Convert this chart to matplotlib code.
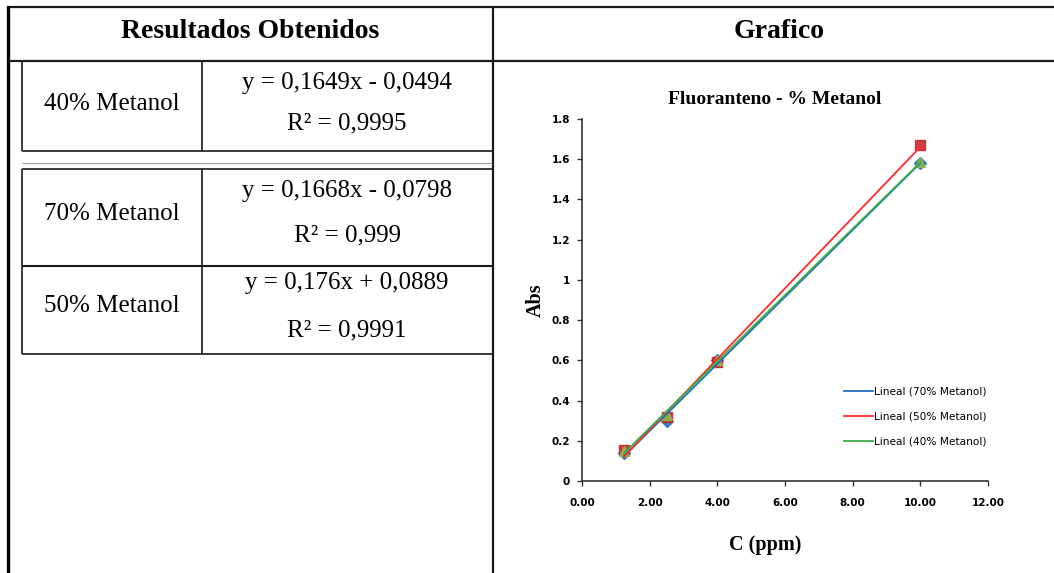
#!/usr/bin/env python3
"""Fluoranteno calibration: results table plus chart, rebuilt as one figure."""

import numpy as np
import matplotlib
matplotlib.use("Agg")
import matplotlib.pyplot as plt

W, H = 1054, 573

# table contents
row_labels = ["40% Metanol", "70% Metanol", "50% Metanol"]
row_equations = ["y = 0,1649x - 0,0494", "y = 0,1668x - 0,0798", "y = 0,176x + 0,0889"]
row_r2 = ["R² = 0,9995", "R² = 0,999", "R² = 0,9991"]

# chart data
conc_ppm = [1.25, 2.5, 4.0, 10.0]
abs_70 = [0.14, 0.30, 0.60, 1.58]
abs_50 = [0.155, 0.32, 0.59, 1.67]
abs_40 = [0.15, 0.33, 0.60, 1.585]
series_names = ["70% Metanol", "50% Metanol", "40% Metanol"]
y_ticks = [0, 0.2, 0.4, 0.6, 0.8, 1.0, 1.2, 1.4, 1.6, 1.8]
x_ticks = [0, 2, 4, 6, 8, 10, 12]

SERIF = ["Liberation Serif", "DejaVu Serif"]

fig = plt.figure(figsize=(W / 100, H / 100), dpi=100)

# background axes in pixel units for the table frame
bg = fig.add_axes([0, 0, 1, 1])
bg.set_xlim(0, W)
bg.set_ylim(H, 0)
bg.axis("off")


def hline(y, x0, x1, lw=1.2, color="#1a1a1a"):
    bg.plot([x0, x1], [y, y], color=color, lw=lw, solid_capstyle="butt")


def vline(x, y0, y1, lw=1.2, color="#1a1a1a"):
    bg.plot([x, x], [y0, y1], color=color, lw=lw, solid_capstyle="butt")


# outer frame
hline(7, 7, W, lw=1.6)
hline(61, 7, W, lw=1.6)
vline(8, 6, H, lw=2.4, color="black")
vline(493, 7, H, lw=1.6)

# inner boxes
hline(151, 22, 492)
vline(22, 62, 151)
vline(202, 62, 151)
hline(163, 22, 492, lw=0.8, color="#9a9a9a")
hline(169, 22, 492)
hline(266, 22, 492, lw=1.5)
hline(354, 22, 492)
vline(22, 169, 354)
vline(202, 169, 354)

bg.text(250, 28, "Resultados Obtenidos", ha="center", va="center_baseline",
        family=SERIF, fontsize=20, fontweight="bold")
bg.text(779, 28, "Grafico", ha="center", va="center_baseline",
        family=SERIF, fontsize=20, fontweight="bold")

label_y = [102, 212, 303]
eq_y = [81, 189, 281]
r2_y = [121, 233, 328]
for lab, eq, r2, ly, ey, ry in zip(row_labels, row_equations, row_r2, label_y, eq_y, r2_y):
    bg.text(112, ly, lab, ha="center", va="center_baseline", family=SERIF, fontsize=18)
    bg.text(347, ey, eq, ha="center", va="center_baseline", family=SERIF, fontsize=18)
    bg.text(347, ry, r2, ha="center", va="center_baseline", family=SERIF, fontsize=18)

# chart
ax = fig.add_axes([582 / W, 1 - 481 / H, 406 / W, 362 / H])
ax.set_facecolor("none")

marker_styles = [
    (abs_70, "D", "#2f6eba", 6.5),
    (abs_50, "s", "#c8282d", 7.5),
    (abs_40, "^", "#8db84a", 7.5),
]
for ys, mk, col, ms in marker_styles:
    ax.plot(conc_ppm, ys, linestyle="none", marker=mk, color=col, ms=ms,
            alpha=0.9, zorder=2)

line_colors = ["#1f6fc5", "#ff2a2a", "#3dae4a"]
x_arr = np.array(conc_ppm)
xs = np.array([x_arr.min(), x_arr.max()])
for ys, col, name in zip([abs_70, abs_50, abs_40], line_colors, series_names):
    k, b = np.polyfit(x_arr, np.array(ys), 1)
    ax.plot(xs, k * xs + b, color=col, lw=1.3, zorder=3, label=f"Lineal ({name})")

ax.set_xlim(0, 12)
ax.set_ylim(0, 1.8)
ax.set_xticks(x_ticks)
ax.set_xticklabels([f"{v:.2f}" for v in x_ticks])
ax.set_yticks(y_ticks)
ax.set_yticklabels([f"{v:g}" for v in y_ticks])
for side in ("top", "right"):
    ax.spines[side].set_visible(False)
for side in ("left", "bottom"):
    ax.spines[side].set_color("#333333")
    ax.spines[side].set_linewidth(1.2)
ax.tick_params(direction="out", length=3.5, width=1.0, color="#333333",
               labelsize=7.5, pad=5)
for lbl in ax.get_xticklabels() + ax.get_yticklabels():
    lbl.set_fontweight("bold")
ax.tick_params(axis="x", pad=9)

leg = ax.legend(loc="upper left", bbox_to_anchor=(0.635, 0.272), frameon=False,
                fontsize=7.6, handlelength=2.7, handletextpad=0.15,
                labelspacing=1.4, borderaxespad=0)

bg.text(775, 99, "Fluoranteno - % Metanol", ha="center", va="center",
        family=SERIF, fontsize=14, fontweight="bold")
bg.text(536, 300, "Abs", ha="center", va="center", rotation=90,
        family=SERIF, fontsize=14.5, fontweight="bold")
bg.text(765, 545, "C (ppm)", ha="center", va="center",
        family=SERIF, fontsize=14.5, fontweight="bold")

fig.savefig("out.png", dpi=100)
